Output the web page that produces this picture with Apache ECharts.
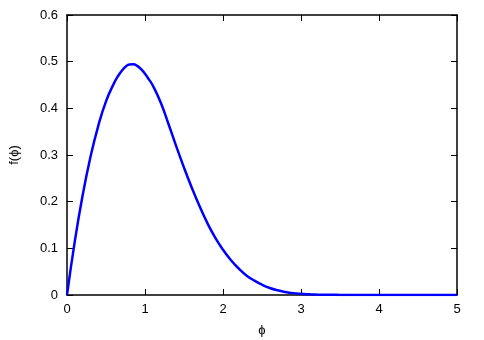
<!DOCTYPE html>
<html>
<head>
<meta charset="utf-8">
<script src="https://cdn.jsdelivr.net/npm/echarts@6/dist/echarts.min.js"></script>
<style>html,body{margin:0;padding:0;background:#fff}#c{width:484px;height:340px}</style>
</head>
<body>
<div id="c"></div>
<script>
// Values
const phi = [0, 0.1, 0.2, 0.3, 0.4, 0.5, 0.6, 0.65, 0.7, 0.75, 0.8, 0.85, 0.9, 0.95,
  1.0, 1.05, 1.1, 1.2, 1.3, 1.4, 1.5, 1.6, 1.7, 1.8, 1.9,
  2.0, 2.1, 2.2, 2.3, 2.4, 2.5, 2.6, 2.7, 2.8, 2.9,
  3.0, 3.1, 3.2, 3.3, 3.4, 3.5, 3.6, 3.7, 3.8, 3.9,
  4.0, 4.1, 4.2, 4.3, 4.4, 4.5, 4.6, 4.7, 4.8, 4.9, 5.0];
const f = [0, 0.115, 0.213, 0.295, 0.362, 0.415, 0.453, 0.468, 0.48, 0.489, 0.494, 0.4945, 0.491, 0.484,
  0.474, 0.462, 0.449, 0.413, 0.367, 0.319, 0.273, 0.23, 0.19, 0.154, 0.123,
  0.097, 0.075, 0.057, 0.042, 0.031, 0.022, 0.015, 0.01, 0.0065, 0.004,
  0.0025, 0.0016, 0.001, 0.0006, 0.0004, 0.0002, 0.0001, 0.0001, 0, 0,
  0, 0, 0, 0, 0, 0, 0, 0, 0, 0, 0];
const xTicks = ['0', '1', '2', '3', '4', '5'];
const yTicks = ['0', '0.1', '0.2', '0.3', '0.4', '0.5', '0.6'];
const xName = 'ϕ';
const yName = 'f(ϕ)';

const font = 'Liberation Sans, Arial, sans-serif';
const data = phi.map((x, i) => [x, f[i]]);
const line = { show: true, onZero: false, lineStyle: { color: '#000', width: 1.5 } };
const tick = { show: true, inside: true, length: 6, lineStyle: { color: '#000', width: 1 } };

const chart = echarts.init(document.getElementById('c'), null, { renderer: 'canvas' });
chart.setOption({
  animation: false,
  grid: { left: 67, right: 27, top: 15, bottom: 45, containLabel: false, outerBoundsMode: 'none' },
  xAxis: [
    { type: 'value', min: 0, max: 5, interval: 1, position: 'bottom',
      name: xName, nameLocation: 'middle', nameGap: 29,
      nameTextStyle: { fontFamily: font, fontSize: 13, color: '#000' },
      axisLine: line, axisTick: tick, splitLine: { show: false },
      axisLabel: { fontFamily: font, fontSize: 13, color: '#000', margin: 8,
        formatter: v => xTicks[Math.round(v)] } },
    { type: 'value', min: 0, max: 5, interval: 1, position: 'top',
      axisLine: line, axisTick: tick, splitLine: { show: false }, axisLabel: { show: false } }
  ],
  yAxis: [
    { type: 'value', min: 0, max: 0.6, interval: 0.1, position: 'left',
      name: yName, nameLocation: 'middle', nameGap: 46,
      nameTextStyle: { fontFamily: font, fontSize: 13, color: '#000' },
      axisLine: line, axisTick: tick, splitLine: { show: false },
      axisLabel: { fontFamily: font, fontSize: 13, color: '#000', margin: 9,
        formatter: v => yTicks[Math.round(v * 10)] } },
    { type: 'value', min: 0, max: 0.6, interval: 0.1, position: 'right',
      axisLine: line, axisTick: tick, splitLine: { show: false }, axisLabel: { show: false } }
  ],
  series: [{
    type: 'line', data: data, smooth: 0.5, showSymbol: false, symbol: 'none',
    xAxisIndex: 0, yAxisIndex: 0, clip: true,
    lineStyle: { color: '#0000ff', width: 2.5 }
  }]
});
</script>
</body>
</html>
